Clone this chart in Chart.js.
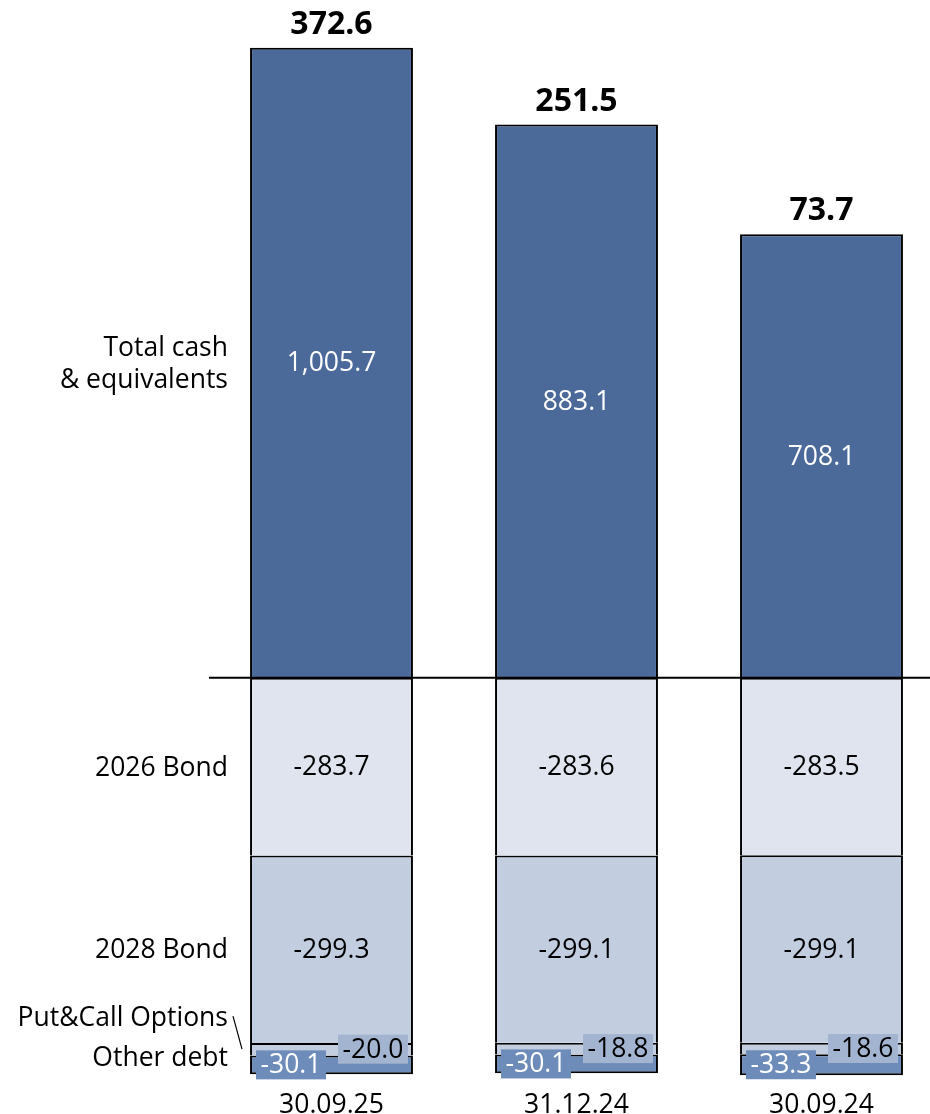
<!DOCTYPE html>
<html>
<head>
<meta charset="utf-8">
<script src="https://cdn.jsdelivr.net/npm/chart.js@4.4.1/dist/chart.umd.min.js"></script>
<style>
  html, body { margin: 0; padding: 0; background: #fff; overflow: hidden; }
  #wrap { width: 944px; height: 1114px; }
</style>
</head>
<body>
<div id="wrap"><canvas id="myChart" width="944" height="1114"></canvas></div>
<script>
const categories = ['30.09.25', '31.12.24', '30.09.24'];
const seriesNames = ['Total cash\n& equivalents', '2026 Bond', '2028 Bond', 'Put&Call Options', 'Other debt'];
const cash = [1005.7, 883.1, 708.1];
const bond2026 = [-283.7, -283.6, -283.5];
const bond2028 = [-299.3, -299.1, -299.1];
const putCall = [-20.0, -18.8, -18.6];
const otherDebt = [-30.1, -30.1, -33.3];
const netCash = [372.6, 251.5, 73.7];

const fills = ['#4b6a9a', '#dfe4ee', '#c2cde0', '#c2cde0', '#6e8cb9'];
const fmt = v => v.toLocaleString('en-US', {minimumFractionDigits: 1, maximumFractionDigits: 1});
const FONT = '26.5px "Open Sans"';

Chart.defaults.font.family = '"Open Sans", "Noto Sans", sans-serif';
Chart.defaults.font.size = 26.5;
Chart.defaults.color = '#000';

const labelPlugin = {
  id: 'labels',
  afterDatasetsDraw(chart) {
    const c = chart.ctx;
    const metas = [0, 1, 2, 3, 4].map(i => chart.getDatasetMeta(i));
    const xs = chart.scales.x;
    const y0 = chart.scales.y.getPixelForValue(0);
    c.save();
    // zero line
    c.strokeStyle = '#000';
    c.lineWidth = 2;
    c.beginPath();
    c.moveTo(209, y0);
    c.lineTo(chart.width, y0);
    c.stroke();

    c.textBaseline = 'middle';
    c.textAlign = 'center';
    categories.forEach((cat, j) => {
      // values inside segments
      for (let i = 0; i < 3; i++) {
        const bar = metas[i].data[j];
        const v = chart.data.datasets[i].data[j];
        c.font = FONT;
        c.fillStyle = i === 0 ? '#fff' : '#000';
        c.fillText(fmt(v), bar.x, (bar.y + bar.base) / 2 + 1);
      }
      // small segments: boxed labels
      const boxes = [
        {i: 3, dx: 41.5, bg: '#a3b4d0', fg: '#000'},
        {i: 4, dx: -40.5, bg: '#6e8cb9', fg: '#fff'}
      ];
      boxes.forEach(b => {
        const bar = metas[b.i].data[j];
        const v = chart.data.datasets[b.i].data[j];
        const cy = (bar.y + bar.base) / 2;
        const cx = bar.x + b.dx;
        c.fillStyle = b.bg;
        c.fillRect(cx - 35, cy - 14.5, 70, 29);
        c.fillStyle = b.fg;
        c.font = FONT;
        c.fillText(fmt(v), cx, cy + 1);
      });
      // net totals on top
      const top = metas[0].data[j];
      c.font = 'bold 32px "Open Sans"';
      c.fillStyle = '#000';
      c.fillText(fmt(netCash[j]), top.x, top.y - 23);
      // category label under the bar
      c.font = FONT;
      c.fillText(cat, xs.getPixelForValue(j), chart.chartArea.bottom + 27);
    });
    // series names on the left
    c.textAlign = 'right';
    c.font = FONT;
    c.fillStyle = '#000';
    const lx = 228;
    const offs = [2, 2, 1, -31, -6];
    seriesNames.forEach((name, i) => {
      const bar = metas[i].data[0];
      const cy = (bar.y + bar.base) / 2 + offs[i];
      const lines = name.split('\n');
      lines.forEach((ln, k) => {
        c.fillText(ln, lx, cy + (k - (lines.length - 1) / 2) * 32);
      });
    });
    // connector for Put&Call Options
    const pc = metas[3].data[0];
    const pcy = (pc.y + pc.base) / 2;
    c.lineWidth = 1.2;
    c.beginPath();
    c.moveTo(233, pcy - 33);
    c.lineTo(242, pcy);
    c.stroke();
    c.restore();
  }
};

const series = [cash, bond2026, bond2028, putCall, otherDebt];
const datasets = series.map((d, i) => ({
  label: seriesNames[i],
  data: d,
  backgroundColor: fills[i],
  borderColor: '#000',
  borderWidth: {
    top: 2,
    left: 2,
    right: 2,
    bottom: i === series.length - 1 ? 2 : 0
  },
  borderSkipped: false,
  inflateAmount: 0,
  categoryPercentage: 1,
  barPercentage: 0.665
}));

new Chart(document.getElementById('myChart').getContext('2d'), {
  type: 'bar',
  data: { labels: categories, datasets: datasets },
  options: {
    responsive: false,
    animation: false,
    layout: { padding: { left: 209, right: 0, top: 0, bottom: 36 } },
    plugins: { legend: { display: false }, tooltip: { enabled: false } },
    scales: {
      x: {
        stacked: true,
        display: false
      },
      y: {
        stacked: true,
        min: -639,
        max: 1082,
        display: false
      }
    }
  },
  plugins: [labelPlugin]
});
</script>
</body>
</html>
